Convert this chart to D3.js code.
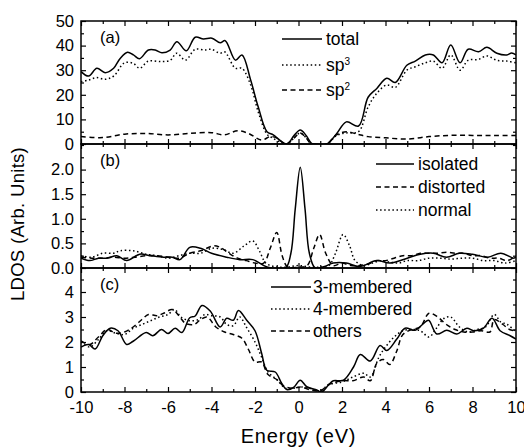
<!DOCTYPE html>
<html><head><meta charset="utf-8">
<script src="https://cdn.jsdelivr.net/npm/d3@7"></script>
<style>body{margin:0;background:#fff} svg{display:block} text{font-family:"Liberation Sans",Arial,sans-serif;fill:#000}</style>
</head><body><svg width="524" height="447"></svg>
<script>
// ---- data: [energy (eV), LDOS] ----
const aTotal = [[-10,29.4],[-9.65,27.6],[-9.27,30.8],[-8.89,29],[-8.5,30.8],[-8.2,34.8],[-7.86,37.3],[-7.59,36.2],[-7.31,34.7],[-6.9,38.2],[-6.59,38.2],[-6.28,37.1],[-5.9,38.2],[-5.59,41.6],[-5.16,37.9],[-4.75,43.4],[-4.37,42.7],[-3.98,43],[-3.6,41.2],[-3.37,42],[-2.9,34.1],[-2.6,36.2],[-2.2,26],[-1.85,15],[-1.45,5],[-1.16,3.7],[-0.85,1.5],[-0.53,0],[-0.2,3.5],[0.08,5.7],[0.35,3.5],[0.6,0.3],[0.8,0],[1.3,0],[1.76,4.3],[2.2,9],[2.76,7.3],[3.2,19],[3.6,22.6],[4.06,26.7],[4.45,25],[4.98,32],[5.37,33.7],[5.83,36.2],[6.2,36.2],[6.6,33],[7.0,40.2],[7.43,33],[7.8,38.5],[8.28,37.5],[8.66,39.3],[9.12,36.9],[9.58,36.2],[9.8,37],[10,36.2]];
const aSp3 = [[-10,25.3],[-9.65,26],[-9.3,27],[-8.9,26.3],[-8.5,27.6],[-8.0,33],[-7.6,32.8],[-7.3,30.8],[-6.9,33.7],[-6.3,33.5],[-5.9,34],[-5.6,36.9],[-5.2,34.1],[-4.75,38.5],[-4.3,38.2],[-4.0,38.5],[-3.6,36.9],[-3.4,37.5],[-2.9,30.8],[-2.6,30.8],[-2.2,24],[-1.85,13],[-1.45,4],[-1.2,2.5],[-0.7,0.3],[-0.5,0],[-0.2,2.5],[0.08,4.5],[0.35,2.5],[0.6,0],[1.3,0],[1.76,3.5],[2.2,4.5],[2.76,5],[3.2,15],[3.6,20.6],[4.06,24],[4.45,23],[4.98,30],[5.37,31.4],[5.83,33],[6.2,33.7],[6.6,30.8],[7.0,36.2],[7.43,30],[7.8,34],[8.28,34.4],[8.66,35.8],[9.12,34],[9.58,33.7],[10,33]];
const aSp2 = [[-10,3],[-9,2.6],[-8,4],[-7,4.3],[-6,3.7],[-5,4.3],[-4,4.6],[-3.4,3.7],[-2.8,5.4],[-2.3,4.3],[-1.7,1.6],[-1.3,3],[-1.0,2.5],[-0.6,0],[-0.2,2.5],[0.08,4.5],[0.35,2.5],[0.6,0],[1.3,0],[1.7,3.5],[2.2,5],[2.7,4],[3.2,3],[4,2.5],[5,2],[6,3],[7,3.5],[8,3.5],[9,3.5],[10,3.5]];

const bIsolated = [[-10,0.2],[-9.6,0.15],[-9.2,0.2],[-8.8,0.2],[-8.35,0.25],[-7.9,0.15],[-7.3,0.28],[-6.8,0.25],[-6.2,0.22],[-5.8,0.22],[-5.45,0.17],[-5.0,0.42],[-4.5,0.4],[-4.0,0.3],[-3.3,0.22],[-2.7,0.17],[-2.1,0.17],[-1.45,0.02],[-0.6,0],[-0.35,0.3],[-0.15,1.2],[0.08,2.05],[0.3,1.2],[0.5,0.3],[0.77,0],[1.2,0.03],[1.6,0.1],[2.2,0.1],[2.8,0.03],[3.6,0.15],[4.2,0.1],[5.0,0.2],[5.6,0.28],[6.2,0.3],[6.8,0.22],[7.4,0.3],[8.0,0.28],[8.7,0.22],[9.3,0.3],[9.9,0.2],[10,0.22]];
const bDistorted = [[-10,0.22],[-9.5,0.2],[-9,0.2],[-8.5,0.22],[-8,0.2],[-7.5,0.22],[-7,0.25],[-6.5,0.25],[-6,0.22],[-5.5,0.2],[-5,0.3],[-4.5,0.35],[-3.9,0.45],[-3.6,0.42],[-3.2,0.3],[-2.8,0.2],[-2.4,0.15],[-2,0.1],[-1.6,0.1],[-1.3,0.4],[-1.0,0.72],[-0.75,0.25],[-0.5,0.02],[0,0.02],[0.4,0.05],[0.7,0.4],[0.97,0.68],[1.25,0.3],[1.6,0.05],[2.0,0.1],[2.4,0.05],[2.8,0.05],[3.2,0.08],[3.6,0.15],[4.0,0.15],[4.4,0.2],[4.8,0.25],[5.2,0.25],[5.6,0.3],[6.0,0.3],[6.4,0.3],[6.8,0.32],[7.2,0.3],[7.6,0.3],[8.0,0.25],[8.4,0.25],[8.8,0.2],[9.2,0.2],[9.6,0.15],[10,0.25]];
const bNormal = [[-10,0.25],[-9.5,0.22],[-9,0.3],[-8.5,0.3],[-8.2,0.35],[-7.6,0.35],[-7.0,0.28],[-6.5,0.25],[-6,0.2],[-5.5,0.25],[-5,0.3],[-4.5,0.3],[-4.0,0.4],[-3.5,0.38],[-3.0,0.3],[-2.5,0.45],[-2.1,0.55],[-1.8,0.35],[-1.5,0.1],[-1,0.02],[-0.5,0.02],[0,0.05],[0.5,0.02],[1.0,0.02],[1.4,0.05],[1.7,0.3],[2.05,0.68],[2.35,0.45],[2.6,0.15],[3.0,0.05],[3.4,0.1],[3.8,0.15],[4.2,0.12],[4.6,0.1],[5.0,0.15],[5.5,0.15],[6,0.2],[6.5,0.2],[7,0.18],[7.5,0.2],[8,0.2],[8.5,0.15],[9,0.15],[9.5,0.1],[10,0.15]];

const c3 = [[-10,1.8],[-9.65,1.9],[-9.35,1.72],[-9.0,2.25],[-8.66,2.55],[-8.3,2.45],[-7.9,1.9],[-7.6,2.03],[-7.0,2.38],[-6.7,2.25],[-6.3,2.5],[-6.0,2.34],[-5.67,2.55],[-5.36,2.38],[-5.0,2.97],[-4.75,3.04],[-4.44,3.46],[-4.06,3.24],[-3.6,2.6],[-3.3,2.95],[-3.0,2.87],[-2.76,3.26],[-2.38,2.87],[-2.0,2.45],[-1.69,1.53],[-1.46,0.87],[-1.07,0.8],[-0.77,0.34],[-0.54,0.1],[-0.23,0.18],[0.08,0.47],[0.38,0.21],[0.84,0.08],[1.07,0],[1.38,0.28],[1.6,0.45],[2.07,0.47],[2.53,1.0],[2.84,1.5],[3.3,1.24],[3.75,1.86],[4.06,1.66],[4.52,2.12],[4.9,2.55],[5.36,2.47],[5.75,2.74],[5.98,2.87],[6.36,2.32],[6.82,2.47],[7.28,2.32],[7.74,2.55],[8.05,2.45],[8.5,2.55],[8.9,2.95],[9.27,2.45],[9.73,2.25],[10,2.12]];
const c4 = [[-10,2.0],[-9.6,1.8],[-9.2,2.1],[-8.8,2.45],[-8.4,2.35],[-8.0,2.3],[-7.6,2.55],[-7.2,2.7],[-6.8,2.85],[-6.4,3.0],[-6.0,3.1],[-5.7,3.3],[-5.4,3.0],[-5.0,2.85],[-4.6,2.9],[-4.3,3.1],[-4.0,3.05],[-3.6,3.0],[-3.3,2.7],[-3.0,2.65],[-2.7,3.0],[-2.4,2.6],[-2.0,2.0],[-1.7,1.4],[-1.4,0.8],[-1.0,0.5],[-0.6,0.15],[-0.2,0.15],[0.1,0.2],[0.5,0.15],[1.0,0.05],[1.4,0.3],[2.0,0.4],[2.5,0.6],[3.0,0.75],[3.3,0.6],[3.7,1.4],[4.0,1.8],[4.4,2.2],[4.8,2.45],[5.2,2.5],[5.6,2.45],[6.0,2.2],[6.3,2.5],[6.7,2.95],[7.0,3.0],[7.4,2.6],[7.8,2.4],[8.2,2.5],[8.6,2.6],[9.0,3.1],[9.3,2.8],[9.6,2.7],[10,2.4]];
const cOthers = [[-10,2.05],[-9.6,1.9],[-9.2,2.2],[-8.8,2.5],[-8.4,2.35],[-8.0,2.4],[-7.6,2.6],[-7.2,2.9],[-6.9,3.1],[-6.5,3.05],[-6.2,3.15],[-5.8,3.3],[-5.5,3.05],[-5.2,2.75],[-4.8,2.7],[-4.5,2.9],[-4.2,3.0],[-3.8,2.6],[-3.4,2.4],[-3.0,2.3],[-2.6,2.15],[-2.3,1.7],[-2.0,1.2],[-1.7,1.2],[-1.4,0.7],[-1.0,0.5],[-0.7,0.25],[-0.3,0.15],[0.1,0.2],[0.5,0.1],[1.0,0.05],[1.4,0.3],[2.0,0.45],[2.5,0.45],[3.0,0.6],[3.3,0.45],[3.6,1.15],[3.9,1.3],[4.2,1.1],[4.5,1.6],[4.8,2.3],[5.2,2.5],[5.6,2.6],[6.0,3.15],[6.4,3.0],[6.8,2.7],[7.2,2.5],[7.6,2.4],[8.0,2.4],[8.4,2.45],[8.8,2.4],[9.0,2.9],[9.4,2.7],[9.7,2.5],[10,2.45]];

const xMajor = [-10,-8,-6,-4,-2,0,2,4,6,8,10];
const xMinor = [-9,-7,-5,-3,-1,1,3,5,7,9];
const aTicks = [0,10,20,30,40,50];
const bTicks = [0,0.5,1.0,1.5,2.0];
const cTicks = [0,1,2,3,4];
const legA = ["total","sp3","sp2"];
const legB = ["isolated","distorted","normal"];
const legC = ["3-membered","4-membered","others"];
const xTitle = "Energy (eV)";
const yTitle = "LDOS (Arb. Units)";

// ---- drawing ----
const svg = d3.select("svg");
const L = 81, R = 516;
const FONT = "Liberation Sans, Arial, sans-serif";
const x = d3.scaleLinear().domain([-10,10]).range([L,R]);
const styles = [
  {dash:null},
  {dash:"1.5,2.6"},
  {dash:"5,3.5"}
];
const panels = [
  {top:21,bottom:144,domain:[0,50],ticks:aTicks,minor:d3.range(5,50,10),fmt:d=>String(d),label:"(a)",
   series:[[aTotal,0],[aSp3,1],[aSp2,2]],leg:legA,legStyles:[0,1,2],legX:[282,322,326],legY:[39,65,90]},
  {top:144,bottom:268,domain:[0,2.52],ticks:bTicks,minor:[0.25,0.75,1.25,1.75,2.25,2.5],fmt:d=>d.toFixed(1),label:"(b)",
   series:[[bIsolated,0],[bDistorted,2],[bNormal,1]],leg:legB,legStyles:[0,2,1],legX:[376,414,418],legY:[164,187,210]},
  {top:268,bottom:392,domain:[0,4.96],ticks:cTicks,minor:[0.5,1.5,2.5,3.5,4.5],fmt:d=>String(d),label:"(c)",
   series:[[c3,0],[c4,1],[cOthers,2]],leg:legC,legStyles:[0,1,2],legX:[271,311,313],legY:[287,309,331]}
];

panels.forEach((p,i)=>{
  const y = d3.scaleLinear().domain(p.domain).range([p.bottom,p.top]);
  const g = svg.append("g");
  const cid = "clip"+i;
  svg.append("clipPath").attr("id",cid).append("rect")
     .attr("x",L).attr("y",p.top).attr("width",R-L).attr("height",p.bottom-p.top);
  const line = d3.line().x(d=>x(d[0])).y(d=>y(d[1])).curve(d3.curveCatmullRom.alpha(0.5));
  p.series.forEach(([data,si])=>{
    g.append("path").attr("clip-path",`url(#${cid})`).attr("d",line(data))
      .attr("fill","none").attr("stroke","#000").attr("stroke-width",1.5)
      .attr("stroke-dasharray",styles[si].dash);
  });
  const styleAxis = sel => { sel.select(".domain").remove(); sel.selectAll("line").attr("stroke","#000").attr("stroke-width",1.2); };
  g.append("g").attr("transform",`translate(${L},0)`)
    .call(d3.axisLeft(y).tickValues(p.ticks).tickFormat(p.fmt).tickSize(-5).tickPadding(7))
    .call(styleAxis).selectAll("text").attr("font-size",16.5).style("font-family",FONT);
  g.append("g").attr("transform",`translate(${L},0)`)
    .call(d3.axisLeft(y).tickValues(p.minor).tickFormat("").tickSize(-3)).call(styleAxis);
  g.append("g").attr("transform",`translate(${R},0)`)
    .call(d3.axisRight(y).tickValues(p.ticks).tickFormat("").tickSize(-5)).call(styleAxis);
  g.append("g").attr("transform",`translate(${R},0)`)
    .call(d3.axisRight(y).tickValues(p.minor).tickFormat("").tickSize(-3)).call(styleAxis);
  const bot = g.append("g").attr("transform",`translate(0,${p.bottom})`)
    .call(d3.axisBottom(x).tickValues(xMajor).tickFormat(i===2? (d=>String(d)) : "").tickSize(-5).tickPadding(9))
    .call(styleAxis);
  bot.selectAll("text").attr("font-size",16.5).style("font-family",FONT);
  g.append("g").attr("transform",`translate(0,${p.bottom})`)
    .call(d3.axisBottom(x).tickValues(xMinor).tickFormat("").tickSize(-3)).call(styleAxis);
  g.append("g").attr("transform",`translate(0,${p.top})`)
    .call(d3.axisTop(x).tickValues(xMajor).tickFormat("").tickSize(-5)).call(styleAxis);
  g.append("g").attr("transform",`translate(0,${p.top})`)
    .call(d3.axisTop(x).tickValues(xMinor).tickFormat("").tickSize(-3)).call(styleAxis);
  g.append("rect").attr("x",L).attr("y",p.top).attr("width",R-L).attr("height",p.bottom-p.top)
    .attr("fill","none").attr("stroke","#000").attr("stroke-width",1.5);
  g.append("text").attr("x",100).attr("y",p.top+22).attr("font-size",16.5).text(p.label);
  p.leg.forEach((name,k)=>{
    const ly = p.legY[k];
    g.append("line").attr("x1",p.legX[0]).attr("x2",p.legX[1]).attr("y1",ly).attr("y2",ly)
      .attr("stroke","#000").attr("stroke-width",1.5).attr("stroke-dasharray",styles[p.legStyles[k]].dash);
    const t = g.append("text").attr("x",p.legX[2]).attr("y",ly).attr("dy","0.36em").attr("font-size",17.5);
    const m = name.match(/^sp(\d)$/);
    if (m) {
      t.append("tspan").text("sp");
      t.append("tspan").attr("dy","-0.6em").attr("font-size",10).text(m[1]);
    } else t.text(name);
  });
});

svg.append("text").attr("x",(L+R)/2).attr("y",443).attr("text-anchor","middle").attr("font-size",20)
  .attr("letter-spacing",0.8).text(xTitle);
svg.append("text").attr("transform","translate(24,224) rotate(-90)").attr("text-anchor","middle").attr("font-size",18.5)
  .attr("letter-spacing",0.3).text(yTitle);
</script>
</body></html>
